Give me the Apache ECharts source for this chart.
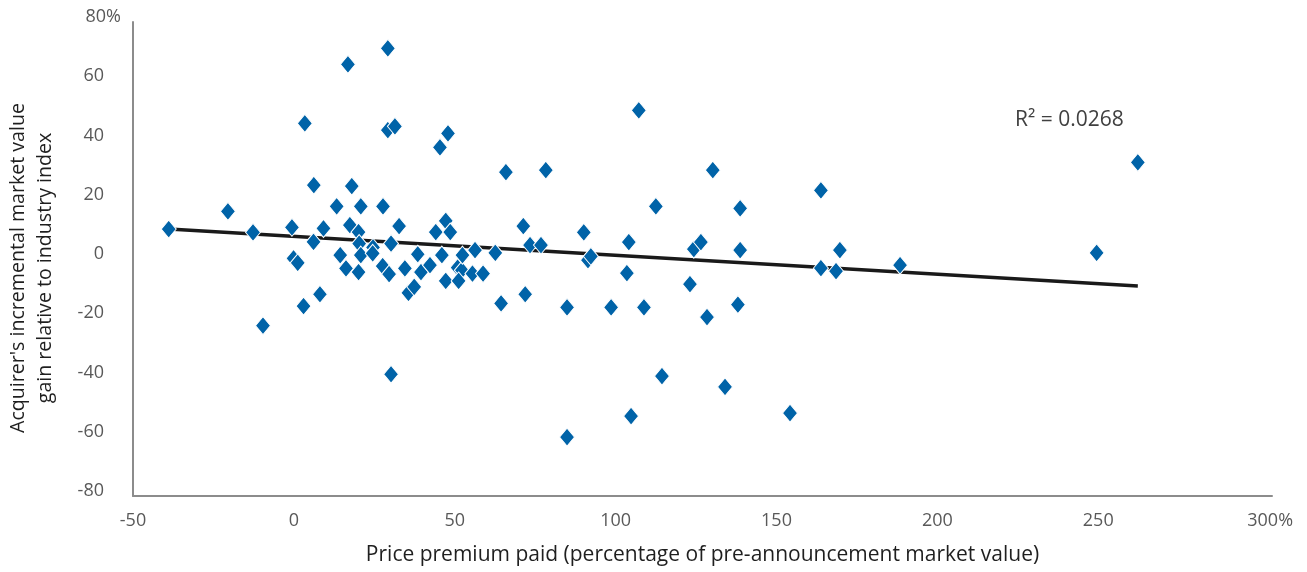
<!DOCTYPE html>
<html><head><meta charset="utf-8">
<script src="https://cdn.jsdelivr.net/npm/echarts@6/dist/echarts.min.js"></script>
<style>html,body{margin:0;padding:0;background:#fff}#c{width:1307px;height:572px}</style>
</head><body><div id="c"></div>
<script>
// Price premium paid (% of pre-announcement market value)
const premium = [
  -38.9, -20.5, -12.7, -9.6, -0.6, -0.1, 1.2, 3.0, 3.4, 6.2,
  6.1, 8.1, 9.2, 13.3, 14.4, 16.2, 16.8, 18.0, 17.4, 20.1,
  20.3, 20.1, 20.8, 20.8, 24.6, 24.5, 27.7, 27.6, 29.2, 29.2,
  31.4, 30.2, 29.6, 30.2, 32.7, 34.5, 35.6, 37.4, 38.5, 39.5,
  42.3, 44.1, 45.4, 46.0, 47.2, 47.2, 47.9, 48.6, 50.9, 52.2,
  51.2, 52.4, 56.3, 55.5, 58.8, 62.6, 64.4, 65.9, 71.3, 71.9,
  73.4, 76.8, 78.3, 84.9, 84.9, 90.1, 91.4, 92.3, 98.6, 103.5,
  104.1, 104.8, 107.2, 108.8, 112.5, 114.4, 123.1, 124.3, 126.5, 128.4,
  130.2, 134.0, 138.0, 138.7, 138.7, 154.2, 163.8, 163.8, 168.5, 169.7,
  188.4, 249.5, 262.3
];
// Acquirer's incremental market value gain relative to industry index (%)
const gain = [
  10.1, 16.1, 9.0, -22.5, 10.7, 0.2, -1.3, -15.9, 45.8, 24.9,
  5.8, -11.9, 10.3, 17.8, 1.3, -3.2, 65.7, 24.6, 11.4, 9.1,
  5.2, -4.4, 17.8, 1.3, 3.9, 1.9, 17.8, -2.4, 71.1, 43.5,
  44.8, 5.2, -5.1, -38.9, 11.1, -3.2, -11.4, -9.4, 1.6, -4.4,
  -2.1, 9.1, 37.7, 1.3, 12.9, -7.4, 42.4, 9.1, -2.9, -3.8,
  -7.4, 1.3, 3.0, -4.9, -4.9, 2.1, -15.0, 29.3, 11.1, -11.9,
  4.7, 4.7, 30.0, -16.3, -60.1, 9.0, -0.4, 0.9, -16.3, -4.8,
  5.7, -53.0, 50.2, -16.3, 17.8, -39.5, -8.5, 3.3, 5.7, -19.6,
  30.0, -43.2, -15.4, 17.1, 3.0, -52.0, 23.2, -3.1, -4.1, 3.0,
  -2.1, 2.1, 32.6
];
// Linear trendline end points
const trendX = [-38.9, 262.3];
const trendY = [10.1, -9.1];
const xTickLabels = ['-50', '0', '50', '100', '150', '200', '250', '300%'];
const yTickLabels = ['-80', '-60', '-40', '-20', '0', '20', '40', '60', '80%'];
const rSquared = 'R² = 0.0268';
const xTitle = 'Price premium paid (percentage of pre-announcement market value)';
const yTitle = "Acquirer's incremental market value\ngain relative to industry index";

const FONT = '"Open Sans", "Noto Sans", sans-serif';
const points = premium.map((x, i) => [x, gain[i]]);
const trend = trendX.map((x, i) => [x, trendY[i]]);

const chart = echarts.init(document.getElementById('c'), null, {renderer: 'canvas'});
chart.setOption({
  animation: false,
  backgroundColor: '#fff',
  grid: {left: 133, right: 35, top: 22, bottom: 76, containLabel: false, outerBoundsMode: 'none'},
  xAxis: {
    type: 'value', min: -50, max: 304, interval: 50,
    axisLine: {show: true, onZero: false, lineStyle: {color: '#8c8c8c', width: 2}},
    axisTick: {show: false}, splitLine: {show: false},
    axisLabel: {
      interval: 0, margin: 16, color: '#595959', fontFamily: FONT, fontSize: 18,
      formatter: function (v) {
        const idx = Math.round((v + 50) / 50);
        if (Math.abs(v - (idx * 50 - 50)) > 1e-6) return '';
        const t = xTickLabels[idx];
        if (t === undefined) return '';
        if (t.indexOf('%') >= 0) return '{s|}{n|' + t + '}';
        return '{n|' + t + '}';
      },
      rich: {n: {color: '#595959', fontFamily: FONT, fontSize: 18}, s: {width: 22}}
    },
    name: xTitle, nameLocation: 'middle', nameGap: 49,
    nameTextStyle: {color: '#1f1f1f', fontFamily: FONT, fontSize: 21}
  },
  yAxis: {
    type: 'value', min: -80, max: 80, interval: 20,
    axisLine: {show: true, onZero: false, lineStyle: {color: '#8c8c8c', width: 2}},
    axisTick: {show: false}, splitLine: {show: false},
    axisLabel: {
      margin: 12, padding: [0, 0, 10, 0],
      formatter: function (v) {
        const t = yTickLabels[Math.round((v + 80) / 20)];
        if (t === undefined) return '';
        if (t.indexOf('%') >= 0) return '{n|' + t + '}';
        return '{n|' + t + '}{s|}';
      },
      rich: {n: {color: '#595959', fontFamily: FONT, fontSize: 18}, s: {width: 17}}
    },
    name: yTitle, nameLocation: 'middle', nameGap: 74,
    nameTextStyle: {color: '#1f1f1f', fontFamily: FONT, fontSize: 19.6, lineHeight: 27, padding: [0, 18, 0, 0]}
  },
  graphic: [{
    type: 'text', left: 1015, top: 110, z: 10,
    style: {text: rSquared, fill: '#404040', font: '21px ' + FONT}
  }],
  series: [
    {
      type: 'line', data: trend, symbol: 'none', z: 1,
      lineStyle: {color: '#1a1a1a', width: 3.5}
    },
    {
      type: 'scatter', data: points, symbol: 'diamond', symbolSize: [15, 18], z: 2,
      itemStyle: {color: '#0063a8', borderColor: '#ffffff', borderWidth: 1, opacity: 1}
    }
  ]
});
</script>
</body></html>
